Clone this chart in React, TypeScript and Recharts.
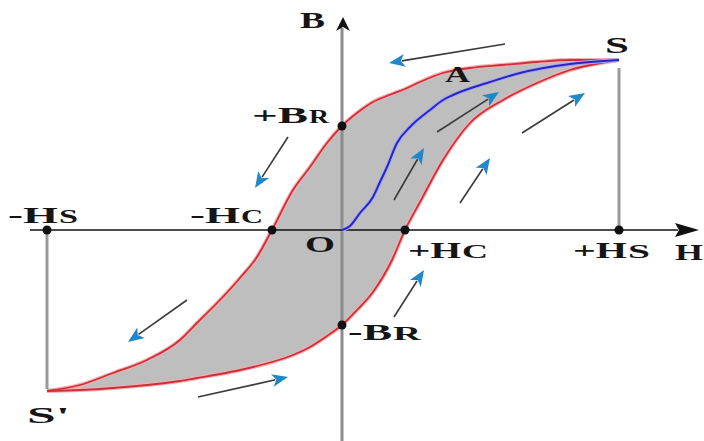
import React from 'react';
import { ComposedChart, Area, Line, XAxis, YAxis, ReferenceLine, ReferenceDot } from 'recharts';

// Field strength H (common grid for both branches of the loop)
const H_GRID = [-295, -262, -229, -195, -162, -145, -122, -102, -85, -70, -49, -32, -15, 0, 15, 31, 50, 63, 78, 101, 128, 161, 195, 228, 277];
// Descending branch (S -> +Br -> -Hc -> S')
const UPPER_B = [-161, -155, -143, -130, -110, -93, -70, -48, -27, 0, 40, 63, 87, 104, 117, 128, 136, 141, 148, 157, 162, 165, 168, 170, 170];
// Ascending branch (S' -> -Br -> +Hc -> S)
const LOWER_B = [-161, -160, -158, -155, -151, -148, -144, -140, -136, -132, -125, -117, -106, -95, -80, -62, -30, 0, 28, 70, 107, 130, 147, 160, 170];

// Initial magnetisation curve O -> S
const VIRGIN_H = [0, 8, 18, 31, 38, 45, 55, 68, 88, 101, 111, 145, 178, 228, 277];
const VIRGIN_B = [0, 4, 17, 33, 48, 63, 87, 103, 120, 130, 135, 147, 157, 166, 170];

// Key points
const HS_POS = 277;
const HS_NEG = -295;
const HC_POS = 63;
const HC_NEG = -70;
const BR_POS = 104;
const BR_NEG = -95;
const BS_POS = 170;
const BS_NEG = -161;

// Direction arrows [fromH, fromB, toH, toB]
const FLOW_ARROWS = [
  [163, 186, 47, 167],
  [-54, 93, -87, 42],
  [95, 98, 157, 138],
  [180, 97, 243, 137],
  [52, 30, 82, 82],
  [118, 27, 148, 72],
  [52, -87, 82, -40],
  [-155, -70, -214, -112],
  [-144, -167, -54, -147],
];

// Label texts: main text, small-caps suffix, anchor (start, baseline)
const LABELS = [
  { main: 'B', sub: '', h: -42, b: 202, mw: 25, sw: 0 },
  { main: 'S', sub: '', h: 263, b: 177, mw: 24, sw: 0 },
  { main: 'A', sub: '', h: 103, b: 148, mw: 25, sw: 0 },
  { main: '+B', sub: 'R', h: -90, b: 107, mw: 56, sw: 20 },
  { main: '-H', sub: 'S', h: -334, b: 7, mw: 50, sw: 19 },
  { main: '-H', sub: 'C', h: -152, b: 7, mw: 50, sw: 22 },
  { main: 'O', sub: '', h: -37, b: -22, mw: 30, sw: 0 },
  { main: '+H', sub: 'C', h: 66, b: -28, mw: 53, sw: 26 },
  { main: '+H', sub: 'S', h: 231, b: -28, mw: 54, sw: 22 },
  { main: 'H', sub: '', h: 333, b: -30, mw: 28, sw: 0 },
  { main: '-B', sub: 'R', h: 6, b: -110, mw: 44, sw: 28 },
  { main: "S'", sub: '', h: -315, b: -193, mw: 43, sw: 0 },
];

const loopData = H_GRID.map((h, i) => ({ h, upper: UPPER_B[i], lower: LOWER_B[i] }));
const virginData = VIRGIN_H.map((h, i) => ({ h, b: VIRGIN_B[i] }));

const makeArrow = (shaft: string, head: string, headLen: number, headW: number, shaftW: number) => (p: any) => {
  const { x1, y1, x2, y2 } = p;
  const ang = Math.atan2(y2 - y1, x2 - x1);
  const c = Math.cos(ang);
  const s = Math.sin(ang);
  const bx = x2 - headLen * c;
  const by = y2 - headLen * s;
  const nx = -s * headW / 2;
  const ny = c * headW / 2;
  return (
    <g>
      {shaftW > 0.1 ? <line x1={x1} y1={y1} x2={bx + 3 * c} y2={by + 3 * s} stroke={shaft} strokeWidth={shaftW} /> : null}
      <polygon points={`${x2},${y2} ${bx + nx},${by + ny} ${bx + 4 * c},${by + 4 * s} ${bx - nx},${by - ny}`} fill={head} />
    </g>
  );
};

const flowArrow = makeArrow('#3a3a3a', '#2088c8', 16, 13, 1.6);
const axisArrowH = makeArrow('#111', '#111', 24, 14, 1.6);
const axisArrowV = makeArrow('#111', '#111', 14, 14, 0);

const FONT = "'Liberation Serif', 'Times New Roman', serif";

const labelShape = (l: any) => (p: any) => (
  <g>
    <text x={p.cx} y={p.cy} fontFamily={FONT} fontWeight="bold" fill="#151515" fontSize={24} textLength={l.mw} lengthAdjust="spacingAndGlyphs">
      {l.main}
    </text>
    {l.sub ? (
      <text x={p.cx + l.mw + 1} y={p.cy} fontFamily={FONT} fontWeight="bold" fill="#151515" fontSize={18} textLength={l.sw} lengthAdjust="spacingAndGlyphs">
        {l.sub}
      </text>
    ) : null}
  </g>
);

export default function App() {
  return (
    <div style={{ position: 'absolute', left: 0, top: 0, background: '#fff' }}>
      <ComposedChart width={704} height={441} data={loopData} margin={{ top: 0, right: 0, bottom: 0, left: 0 }}>
        <XAxis type="number" dataKey="h" domain={[-342, 362]} allowDataOverflow hide />
        <YAxis type="number" domain={[-211, 230]} allowDataOverflow hide width={0} />
        <Area
          type="monotone"
          dataKey={(d: any) => [d.lower, d.upper]}
          fill="#bebebe"
          fillOpacity={1}
          stroke="#f2b0b0"
          strokeWidth={4}
          isAnimationActive={false}
          dot={false}
          activeDot={false}
        />
        {/* drop lines */}
        <ReferenceLine segment={[{ x: HS_POS, y: BS_POS - 8 }, { x: HS_POS, y: 0 }]} stroke="#999" strokeWidth={3} />
        <ReferenceLine segment={[{ x: HS_NEG, y: 0 }, { x: HS_NEG, y: BS_NEG + 2 }]} stroke="#999" strokeWidth={3} />
        {/* vertical axis */}
        <ReferenceLine segment={[{ x: 0, y: -211 }, { x: 0, y: 202 }]} stroke="#8c8c8c" strokeWidth={3} />
        <ReferenceLine segment={[{ x: 1, y: 198 }, { x: 1, y: 213 }]} shape={axisArrowV} />
        {/* horizontal axis */}
        <ReferenceLine segment={[{ x: -312, y: 0 }, { x: 357, y: 0 }]} shape={axisArrowH} />
        <Line type="monotone" dataKey="upper" stroke="#cf2f3a" strokeWidth={1.8} dot={false} activeDot={false} isAnimationActive={false} />
        <Line type="monotone" dataKey="lower" stroke="#cf2f3a" strokeWidth={1.8} dot={false} activeDot={false} isAnimationActive={false} />
        <Line data={virginData} type="monotone" dataKey="b" stroke="#a8a8f0" strokeWidth={4} dot={false} activeDot={false} isAnimationActive={false} />
        <Line data={virginData} type="monotone" dataKey="b" stroke="#2626c8" strokeWidth={2} dot={false} activeDot={false} isAnimationActive={false} />
        {FLOW_ARROWS.map((a, i) => (
          <ReferenceLine key={'a' + i} segment={[{ x: a[0], y: a[1] }, { x: a[2], y: a[3] }]} shape={flowArrow} />
        ))}
        {[
          [HS_NEG, 0], [HC_NEG, 0], [HC_POS, 0], [HS_POS, 0], [0, BR_POS], [0, BR_NEG],
        ].map((d, i) => (
          <ReferenceDot key={'d' + i} x={d[0]} y={d[1]} r={4.5} fill="#111" stroke="none" />
        ))}
        {LABELS.map((l, i) => (
          <ReferenceDot key={'l' + i} x={l.h} y={l.b} r={0} shape={labelShape(l)} />
        ))}
      </ComposedChart>
    </div>
  );
}
